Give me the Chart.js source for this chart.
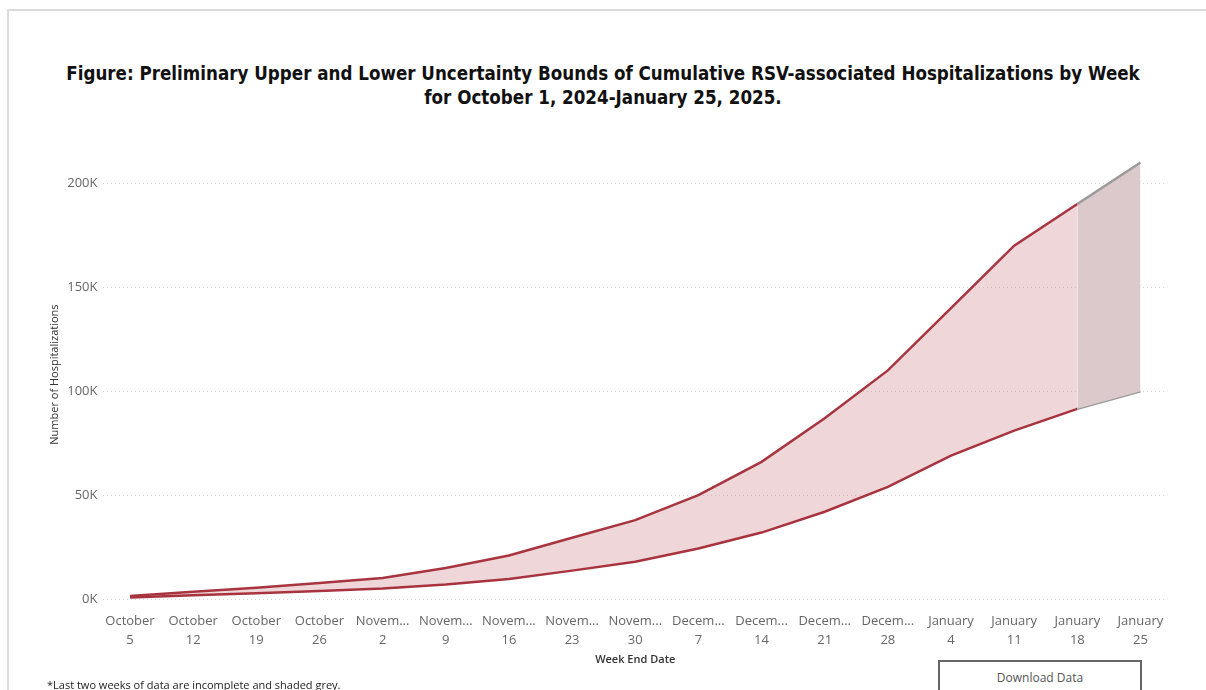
<!DOCTYPE html>
<html>
<head>
<meta charset="utf-8">
<script src="https://cdn.jsdelivr.net/npm/chart.js@4.4.0/dist/chart.umd.min.js"></script>
<style>
  html, body { margin: 0; padding: 0; background: #fff; width: 1206px; height: 690px; overflow: hidden; }
  #card { position: absolute; left: 7px; top: 9px; width: 1210px; height: 700px; border-left: 2px solid #dcdcdc; border-top: 2px solid #dcdcdc; }
  .title { position: absolute; left: 0; width: 1206px; text-align: center; font-family: "Liberation Sans Narrow", "DejaVu Sans Condensed", sans-serif; font-weight: bold; color: #111; white-space: nowrap; }
  #wrap { position: absolute; left: 0; top: 0; width: 1206px; height: 690px; }
  #note { position: absolute; left: 47px; top: 677px; font-family: "Open Sans", sans-serif; font-size: 11px; color: #222; white-space: nowrap; }
  #btn { position: absolute; left: 938px; top: 660px; width: 204px; height: 40px; border: 2px solid #666; box-sizing: border-box; font-family: "Open Sans", sans-serif; font-size: 12px; color: #555; text-align: center; line-height: 32px; background: #fff; }
</style>
</head>
<body>
<div id="card"></div>
<div id="t1" class="title" style="top:63px">Figure: Preliminary Upper and Lower Uncertainty Bounds of Cumulative RSV-associated Hospitalizations by Week</div>
<div id="t2" class="title" style="top:87px">for October 1, 2024-January 25, 2025.</div>
<div id="wrap"><canvas id="c"></canvas></div>
<div id="note">*Last two weeks of data are incomplete and shaded grey.</div>
<div id="btn">Download Data</div>
<script>
// ---- data ----
const categories = [
  ['October', '5'], ['October', '12'], ['October', '19'], ['October', '26'],
  ['Novem...', '2'], ['Novem...', '9'], ['Novem...', '16'], ['Novem...', '23'], ['Novem...', '30'],
  ['Decem...', '7'], ['Decem...', '14'], ['Decem...', '21'], ['Decem...', '28'],
  ['January', '4'], ['January', '11'], ['January', '18'], ['January', '25']
];
const upperBound = [1500, 3500, 5500, 7800, 10200, 15000, 21000, 29500, 38000, 50000, 66000, 87000, 110000, 140000, 170000, 190000, 210000];
const lowerBound = [800, 1800, 2800, 3900, 5100, 7000, 9700, 13700, 18000, 24300, 32000, 42000, 54000, 69000, 81000, 91500, 100000];
const yTicks = [0, 50000, 100000, 150000, 200000];
const greyStartIndex = 15; // last two weeks incomplete

// fit title width
(function fitTitle(){
  const t1 = document.getElementById('t1'), t2 = document.getElementById('t2');
  const c = document.createElement('canvas').getContext('2d');
  const fam = '"Liberation Sans Narrow", "DejaVu Sans Condensed", sans-serif';
  c.font = 'bold 20px ' + fam;
  const w = c.measureText(t1.textContent).width;
  const size = 20 * 1074 / w;
  t1.style.fontSize = size + 'px';
  t2.style.fontSize = size + 'px';
})();

const RED = '#a8343f';
const GREY = '#9a9a9a';
const PINK = 'rgba(168,52,63,0.2)';
const GREYFILL = 'rgb(220,201,204)';

const toXY = arr => arr.map((v, i) => ({ x: i, y: v }));

new Chart(document.getElementById('c'), {
  type: 'line',
  data: {
    datasets: [
      {
        label: 'Upper',
        data: toXY(upperBound),
        borderColor: RED,
        backgroundColor: PINK,
        borderWidth: 2.5,
        pointRadius: 0,
        tension: 0,
        fill: '+1',
        segment: {
          borderColor: ctx => ctx.p0DataIndex >= greyStartIndex ? GREY : RED,
          backgroundColor: ctx => ctx.p0DataIndex >= greyStartIndex ? GREYFILL : PINK
        }
      },
      {
        label: 'Lower',
        data: toXY(lowerBound),
        borderColor: RED,
        borderWidth: 2.5,
        pointRadius: 0,
        tension: 0,
        fill: false,
        segment: {
          borderColor: ctx => ctx.p0DataIndex >= greyStartIndex ? GREY : RED
        }
      }
    ]
  },
  options: {
    responsive: true,
    maintainAspectRatio: false,
    animation: false,
    layout: { padding: { left: 48, right: 39, top: 150, bottom: 24 } },
    plugins: { legend: { display: false }, tooltip: { enabled: false } },
    scales: {
      x: {
        type: 'linear',
        min: -0.42, max: categories.length - 1 + 0.42,
        afterBuildTicks: axis => { axis.ticks = categories.map((c, i) => ({ value: i })); },
        grid: { display: false },
        border: { display: false },
        ticks: {
          maxRotation: 0, autoSkip: false,
          color: '#666',
          font: { family: 'Open Sans', size: 13, lineHeight: 1.45 },
          padding: 5,
          callback: v => categories[v]
        },
        title: {
          display: true, text: 'Week End Date', color: '#333',
          font: { family: 'Open Sans', size: 11, weight: '600' },
          padding: { top: -2, bottom: 0 }
        }
      },
      y: {
        min: 0, max: 216000,
        afterBuildTicks: axis => { axis.ticks = yTicks.map(v => ({ value: v })); },
        grid: { color: '#d8d8d8', lineWidth: 1, drawTicks: false },
        border: { display: false, dash: [1, 3] },
        ticks: {
          color: '#666',
          font: { family: 'Open Sans', size: 13 },
          padding: 6,
          callback: v => (v / 1000) + 'K'
        },
        title: {
          display: true, text: 'Number of Hospitalizations', color: '#333',
          font: { family: 'Open Sans', size: 11 },
          padding: { top: 0, bottom: 0 }
        }
      }
    }
  }
});
</script>
</body>
</html>
